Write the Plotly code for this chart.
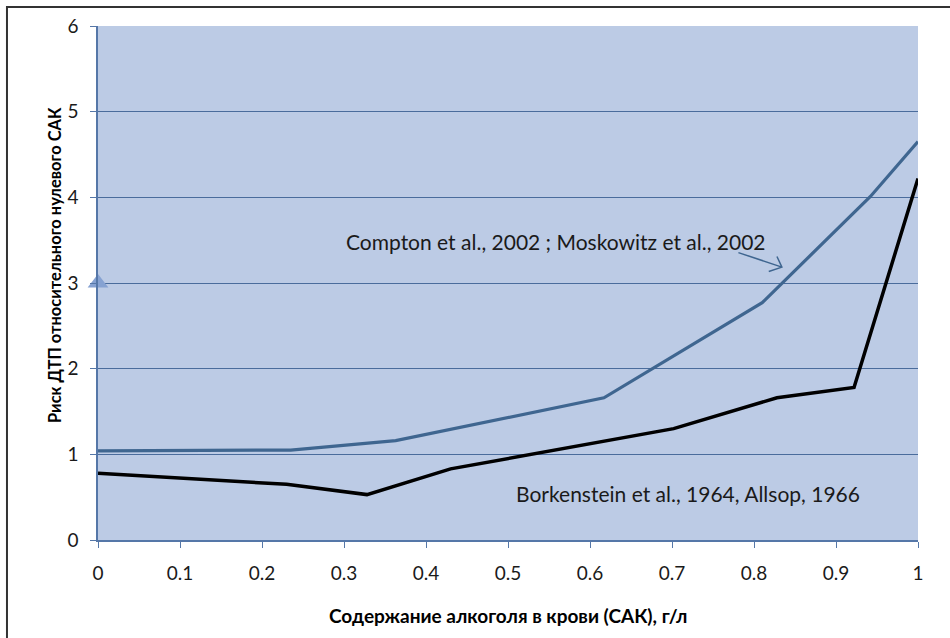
import plotly.graph_objects as go

# Data
compton_x = [0.0, 0.235, 0.363, 0.617, 0.810, 0.942, 1.0]
compton_y = [1.04, 1.05, 1.16, 1.66, 2.77, 4.01, 4.65]

borken_x = [0.0, 0.230, 0.328, 0.430, 0.702, 0.828, 0.922, 1.0]
borken_y = [0.78, 0.65, 0.53, 0.83, 1.30, 1.66, 1.78, 4.22]

marker_x = [0.0]
marker_y = [3.0]

x_ticks = [0, 0.1, 0.2, 0.3, 0.4, 0.5, 0.6, 0.7, 0.8, 0.9, 1]
x_tick_labels = ["0", "0.1", "0.2", "0.3", "0.4", "0.5", "0.6", "0.7", "0.8", "0.9", "1"]
y_ticks = [0, 1, 2, 3, 4, 5, 6]

label_compton = "Compton et al., 2002 ; Moskowitz et al., 2002"
label_borken = "Borkenstein et al., 1964, Allsop, 1966"
x_title = "Содержание алкоголя в крови (САК), г/л"
y_title = "Риск ДТП относительного нулевого САК"

FONT = "Lato, Calibri, sans-serif"

fig = go.Figure()
fig.add_trace(go.Scatter(x=compton_x, y=compton_y, mode="lines",
                         line=dict(color="#3f6690", width=3.2), showlegend=False))
fig.add_trace(go.Scatter(x=borken_x, y=borken_y, mode="lines",
                         line=dict(color="#000000", width=3.5), showlegend=False))
fig.add_trace(go.Scatter(x=marker_x, y=marker_y, mode="markers",
                         marker=dict(symbol="triangle-up", size=18, color="#86a2d2",
                                     line=dict(width=0)),
                         showlegend=False, cliponaxis=False))

# arrow pointing at the Compton curve
fig.add_shape(type="path", xref="x", yref="y",
              path="M 0.781 3.355 L 0.834 3.185 M 0.818 3.134 L 0.834 3.185 L 0.828 3.31",
              line=dict(color="#3f6690", width=1.5))

fig.add_annotation(x=0.5585, y=3.49, xref="x", yref="y", text=label_compton,
                   xanchor="center", yanchor="middle",
                   showarrow=False, font=dict(family=FONT, size=21, color="#1a1a1a"))
fig.add_annotation(x=0.7195, y=0.54, xref="x", yref="y", text=label_borken,
                   xanchor="center", yanchor="middle",
                   showarrow=False, font=dict(family=FONT, size=21, color="#1a1a1a"))

# axis titles
fig.add_annotation(x=0.5, y=-0.146, xref="paper", yref="paper", text="<b>" + x_title + "</b>",
                   xanchor="center", yanchor="middle",
                   showarrow=False, font=dict(family=FONT, size=19, color="#000000"))
fig.add_annotation(x=-0.0524, y=0.535, xref="paper", yref="paper", text="<b>" + y_title + "</b>",
                   xanchor="center", yanchor="middle",
                   showarrow=False, textangle=-90, font=dict(family=FONT, size=16.5, color="#000000"))

# outer chart frame
fig.add_shape(type="path", xref="paper", yref="paper",
              path="M -0.111 -0.3 L -0.111 1.037 L 1.2 1.037",
              line=dict(color="#333333", width=2))

fig.update_layout(
    width=950, height=638,
    margin=dict(l=98, r=32, t=26, b=98),
    paper_bgcolor="white",
    plot_bgcolor="#bccbe5",
    font=dict(family=FONT, size=19, color="#1a1a1a"),
    showlegend=False,
)
fig.update_xaxes(range=[0, 1], tickvals=x_ticks, ticktext=x_tick_labels,
                 showgrid=False, zeroline=False, automargin=False,
                 showline=True, linecolor="#5577a8", linewidth=1.5,
                 ticks="outside", ticklen=6, tickcolor="#5577a8",
                 ticklabelstandoff=9, tickfont=dict(size=19, family=FONT, color="#1a1a1a"))
fig.update_yaxes(range=[0, 6], tickvals=y_ticks, automargin=False,
                 showgrid=True, gridcolor="#4a6c9c", gridwidth=1, zeroline=False,
                 showline=True, linecolor="#5577a8", linewidth=1.5,
                 ticks="outside", ticklen=6, tickcolor="#5577a8",
                 ticklabelstandoff=8, tickfont=dict(size=19, family=FONT, color="#1a1a1a"))

fig.write_html("out.html", config={"displayModeBar": False},
               post_script="document.body.style.margin='0';")
